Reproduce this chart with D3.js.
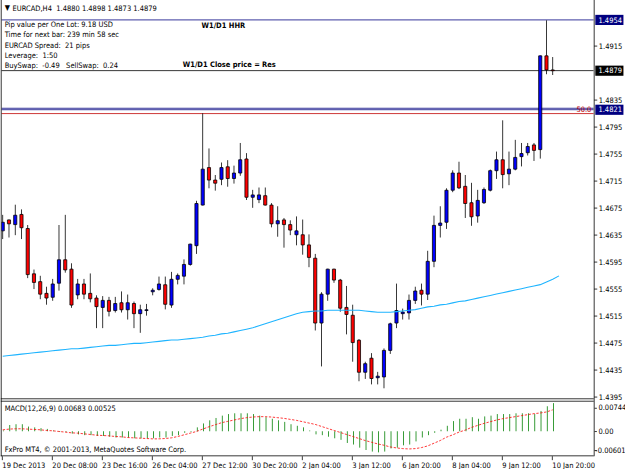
<!DOCTYPE html>
<html><head><meta charset="utf-8">
<script src="https://cdn.jsdelivr.net/npm/d3@7"></script>
<style>
html,body{margin:0;padding:0;background:#fff;overflow:hidden;}
svg{display:block;}
text{font-family:"DejaVu Sans Condensed","Liberation Sans",sans-serif;font-size:9.6px;white-space:pre;}
</style></head><body>
<svg id="c" width="625" height="469"></svg>
<script>
// ---------------- data ----------------
const headerText = "EURCAD,H4  1.4880 1.4898 1.4873 1.4879";
const infoLines = [
  "Pip value per One Lot: 9.18 USD",
  "Time for next bar: 239 min 58 sec",
  "EURCAD Spread:  21 pips",
  "Leverage:  1:50",
  "BuySwap:  -0.49   SellSwap:  0.24"
];
const noteTop = "W1/D1 HHR";
const noteBottom = "W1/D1 Close price = Res";
const opens = [1.4641,1.4657,1.4650,1.4666,1.4645,1.4578,1.4566,1.4549,1.4543,1.4564,
  1.4599,1.4584,1.4546,1.4562,1.4549,1.4542,1.4528,1.4538,1.4523,1.4535,
  1.4524,1.4534,1.4519,1.4523,1.4551,1.4555,1.4561,1.4531,1.4570,1.4574,
  1.4592,1.4619,1.4680,1.4735,1.4717,1.4718,1.4736,1.4719,1.4727,1.4748,
  1.4691,1.4688,1.4693,1.4680,1.4652,1.4658,1.4650,1.4635,1.4636,1.4620,
  1.4601,1.4505,1.4548,1.4584,1.4568,1.4528,1.4516,1.4479,1.4432,1.4453,
  1.4424,1.4425,1.4464,1.4505,1.4519,1.4520,1.4538,1.4553,1.4547,1.4596,
  1.4649,1.4654,1.4701,1.4727,1.4707,1.4683,1.4663,1.4683,1.4701,1.4730,
  1.4747,1.4726,1.4733,1.4751,1.4757,1.4768,1.4762,1.4900,1.4880];
const highs = [1.4664,1.4658,1.4679,1.4673,1.4649,1.4583,1.4574,1.4558,1.4570,1.4649,
  1.4664,1.4593,1.4570,1.4570,1.4578,1.4545,1.4544,1.4543,1.4543,1.4551,
  1.4546,1.4536,1.4531,1.4532,1.4556,1.4573,1.4573,1.4580,1.4578,1.4599,
  1.4622,1.4685,1.4815,1.4763,1.4723,1.4742,1.4746,1.4737,1.4771,1.4756,
  1.4702,1.4705,1.4705,1.4682,1.4677,1.4660,1.4656,1.4662,1.4657,1.4635,
  1.4606,1.4550,1.4585,1.4585,1.4570,1.4559,1.4531,1.4480,1.4447,1.4460,
  1.4432,1.4466,1.4505,1.4563,1.4526,1.4546,1.4558,1.4562,1.4611,1.4663,
  1.4677,1.4704,1.4730,1.4743,1.4723,1.4712,1.4702,1.4705,1.4731,1.4758,
  1.4805,1.4758,1.4776,1.4771,1.4771,1.4771,1.4900,1.4953,1.4898];
const lows = [1.4630,1.4632,1.4635,1.4630,1.4572,1.4556,1.4541,1.4533,1.4538,1.4553,
  1.4580,1.4528,1.4541,1.4541,1.4536,1.4498,1.4498,1.4515,1.4521,1.4521,
  1.4511,1.4498,1.4491,1.4516,1.4546,1.4553,1.4526,1.4528,1.4562,1.4562,
  1.4590,1.4608,1.4679,1.4705,1.4701,1.4710,1.4707,1.4712,1.4723,1.4687,
  1.4676,1.4683,1.4679,1.4647,1.4633,1.4617,1.4636,1.4620,1.4606,1.4588,
  1.4494,1.4441,1.4538,1.4565,1.4522,1.4489,1.4448,1.4419,1.4422,1.4414,
  1.4414,1.4409,1.4459,1.4498,1.4510,1.4510,1.4534,1.4531,1.4539,1.4588,
  1.4632,1.4645,1.4699,1.4704,1.4661,1.4649,1.4654,1.4682,1.4700,1.4719,
  1.4705,1.4710,1.4732,1.4737,1.4753,1.4745,1.4749,1.4874,1.4873];
const closes = [1.4654,1.4652,1.4664,1.4646,1.4577,1.4565,1.4547,1.4542,1.4563,1.4599,
  1.4583,1.4531,1.4563,1.4547,1.4541,1.4529,1.4538,1.4522,1.4534,1.4524,
  1.4535,1.4519,1.4524,1.4524,1.4553,1.4562,1.4533,1.4570,1.4575,1.4592,
  1.4621,1.4682,1.4733,1.4717,1.4712,1.4735,1.4719,1.4727,1.4747,1.4691,
  1.4694,1.4694,1.4680,1.4652,1.4656,1.4651,1.4642,1.4641,1.4620,1.4602,
  1.4505,1.4548,1.4584,1.4568,1.4527,1.4517,1.4476,1.4432,1.4445,1.4423,
  1.4426,1.4464,1.4504,1.4523,1.4521,1.4538,1.4552,1.4548,1.4596,1.4649,
  1.4653,1.4702,1.4727,1.4705,1.4682,1.4662,1.4686,1.4703,1.4730,1.4747,
  1.4725,1.4733,1.4750,1.4756,1.4766,1.4761,1.4900,1.4880,1.4879];
const maValues = [1.4455,1.4456,1.4457,1.4458,1.4459,1.4460,1.4461,1.4462,1.4463,
  1.4464,1.4465,1.4466,1.4466,1.4467,1.4468,1.4469,1.4470,
  1.4471,1.4471,1.4472,1.4473,1.4474,1.4474,1.4475,1.4476,
  1.4477,1.4478,1.4479,1.4479,1.4480,1.4481,1.4482,1.4483,
  1.4485,1.4486,1.4488,1.4489,1.4491,1.4493,1.4495,1.4497,
  1.4500,1.4503,1.4506,1.4509,1.4512,1.4515,1.4518,1.4520,
  1.4521,1.4522,1.4522,1.4523,1.4523,1.4523,1.4523,1.4523,
  1.4523,1.4522,1.4521,1.4520,1.4520,1.4520,1.4521,1.4522,
  1.4523,1.4524,1.4526,1.4528,1.4529,1.4531,1.4532,1.4534,
  1.4536,1.4537,1.4539,1.4541,1.4543,1.4545,1.4547,1.4549,
  1.4551,1.4553,1.4555,1.4557,1.4559,1.4561,1.4565,1.4569,1.4574];
const macdHist = [0.00024,0.00163,0.00179,0.00171,0.00122,0.00106,0.00082,0.00065,0.00033,0.00008,
  -0.00016,-0.00049,-0.00065,-0.00082,-0.00090,-0.00106,-0.00114,-0.00130,-0.00139,-0.00147,
  -0.00155,-0.00163,-0.00171,-0.00171,-0.00163,-0.00147,-0.00139,-0.00114,-0.00082,-0.00041,
  0.00005,0.00098,0.00196,0.00269,0.00326,0.00383,0.00416,0.00440,0.00448,0.00448,
  0.00424,0.00391,0.00350,0.00310,0.00269,0.00228,0.00179,0.00147,0.00098,0.00024,
  -0.00065,-0.00098,-0.00122,-0.00163,-0.00204,-0.00285,-0.00326,-0.00391,-0.00448,-0.00489,
  -0.00505,-0.00489,-0.00408,-0.00391,-0.00342,-0.00310,-0.00245,-0.00147,-0.00098,-0.00024,
  0.00041,0.00147,0.00245,0.00310,0.00310,0.00342,0.00310,0.00367,0.00391,0.00424,
  0.00424,0.00424,0.00448,0.00448,0.00448,0.00424,0.00489,0.00611,0.00683];
const macdSignal = [0.00040,0.00057,0.00065,0.00065,0.00057,0.00049,0.00041,0.00024,0.00016,0.00000,
  -0.00016,-0.00033,-0.00041,-0.00057,-0.00073,-0.00090,-0.00098,-0.00106,-0.00122,-0.00130,
  -0.00147,-0.00155,-0.00163,-0.00171,-0.00179,-0.00179,-0.00171,-0.00155,-0.00122,-0.00082,
  -0.00041,0.00000,0.00057,0.00114,0.00163,0.00212,0.00245,0.00277,0.00310,0.00334,
  0.00350,0.00359,0.00359,0.00350,0.00334,0.00318,0.00293,0.00269,0.00236,0.00204,
  0.00171,0.00122,0.00073,0.00024,-0.00024,-0.00073,-0.00122,-0.00171,-0.00220,-0.00261,
  -0.00302,-0.00334,-0.00375,-0.00399,-0.00416,-0.00424,-0.00416,-0.00391,-0.00350,-0.00285,
  -0.00220,-0.00139,-0.00082,-0.00016,0.00033,0.00098,0.00147,0.00196,0.00236,0.00277,
  0.00310,0.00334,0.00359,0.00383,0.00408,0.00432,0.00448,0.00473,0.00525];
const macdTitle = "MACD(12,26,9) 0.00683 0.00525";
const copyright = "FxPro MT4, \u00A9 2001-2013, MetaQuotes Software Corp.";
const timeLabels = ["19 Dec 2013","20 Dec 08:00","23 Dec 16:00","26 Dec 04:00","27 Dec 12:00","30 Dec 20:00",
  "2 Jan 04:00","3 Jan 12:00","6 Jan 20:00","8 Jan 04:00","9 Jan 12:00","10 Jan 20:00"];
const barsPerLabel = 8;
const priceTicks = [1.4395,1.4435,1.4475,1.4515,1.4555,1.4595,1.4635,1.4675,1.4715,1.4755,1.4795,1.4835,1.4915];
const macdTickLabels = ["0.00744","0.00","-0.00601"];
const macdRange = [-0.00601, 0.00744];
const navyLevels = [1.4954, 1.48225, 1.48205];
const bidLevel = 1.4879;
const fibLevel = 1.4815;
const fibLabel = "50.0";
const navyTags = [1.4954, 1.4821];
const bidTag = 1.4879;

// ---------------- layout (source px, scaled to 625 wide) ----------------
const S = 625/800;
const axisX = 760, mainBottom = 510, macdTop = 513, macdBottom = 583;
const svg = d3.select("#c");
svg.append("rect").attr("width",625).attr("height",469).attr("fill","#fff");
const g = svg.append("g").attr("transform",`scale(${S})`);

const n = opens.length;
const x = d3.scaleLinear().domain([0, n-1]).range([3.5, 3.5 + 8*(n-1)]);
const y = d3.scaleLinear().domain([1.43924, 1.49827]).range([mainBottom, 0]);
const ym = d3.scaleLinear().domain(macdRange).range([macdBottom+1, macdTop]);

const defs = svg.append("defs");
defs.append("clipPath").attr("id","mainClip").append("rect")
  .attr("x",2).attr("y",0).attr("width",axisX-2).attr("height",mainBottom);
defs.append("clipPath").attr("id","macdClip").append("rect")
  .attr("x",2).attr("y",macdTop+1).attr("width",axisX-2).attr("height",macdBottom-macdTop-1);

const main = g.append("g").attr("clip-path","url(#mainClip)");

// horizontal level lines
navyLevels.forEach(p=>{
  main.append("rect").attr("x",0).attr("width",axisX).attr("y",Math.round(y(p))).attr("height",1).attr("fill","#000080");
});
main.append("rect").attr("x",0).attr("width",axisX).attr("y",Math.round(y(fibLevel))).attr("height",1).attr("fill","#C00000");
main.append("rect").attr("x",0).attr("width",axisX).attr("y",Math.round(y(bidLevel))).attr("height",1).attr("fill","#000000");

// candles
const idx = d3.range(n);
main.append("g").selectAll("rect").data(idx).join("rect")
  .attr("x", i=>x(i)-0.5).attr("width",1)
  .attr("y", i=>Math.round(y(highs[i])))
  .attr("height", i=>Math.round(y(lows[i]))-Math.round(y(highs[i]))+1)
  .attr("fill","#000");
main.append("g").selectAll("path").data(idx).join("path")
  .attr("d", i=>{
    const t = Math.round(y(Math.max(opens[i],closes[i])));
    const b = Math.round(y(Math.min(opens[i],closes[i])));
    const x0 = x(i)-2;
    return `M${x0},${t+0.5}h4v${b-t}h-4Z`;
  })
  .attr("fill", i=> closes[i]>=opens[i] ? "#0000FF" : "#FF0000")
  .attr("stroke","#000").attr("stroke-width",1);

// moving average
main.append("path").datum(maValues)
  .attr("d", d3.line().x((d,i)=>x(i)).y(d=>y(d)))
  .attr("fill","none").attr("stroke","#1EB4FF").attr("stroke-width",1.4);

// fib label
main.append("text").attr("x",757).attr("y",Math.round(y(fibLevel))-2).attr("text-anchor","end")
  .attr("fill","#C00000").text(fibLabel);

// header + info
g.append("text").attr("x",6).attr("y",13).attr("font-size","8px").text("\u25BC");
g.append("text").attr("x",16).attr("y",14).text(headerText);
infoLines.forEach((t,k)=>{
  g.append("text").attr("x",6).attr("y",34.5+k*13.2).text(t);
});
g.append("text").attr("x",258).attr("y",36).attr("font-weight","bold").attr("font-size","9.5px").text(noteTop);
g.append("text").attr("x",234).attr("y",86).attr("font-weight","bold").attr("font-size","9.5px").text(noteBottom);

// frames
g.append("rect").attr("x",1).attr("y",0).attr("width",1).attr("height",macdBottom+1).attr("fill","#000");
g.append("rect").attr("x",axisX).attr("y",0).attr("width",1).attr("height",macdBottom+1).attr("fill","#000");
g.append("rect").attr("x",1).attr("y",mainBottom).attr("width",axisX-1).attr("height",1).attr("fill","#000");
g.append("rect").attr("x",1).attr("y",macdTop).attr("width",axisX-1).attr("height",1).attr("fill","#000");
g.append("rect").attr("x",1).attr("y",macdBottom).attr("width",axisX-1).attr("height",1).attr("fill","#000");

// price axis
const pa = g.append("g").attr("transform",`translate(${axisX+0.5},0)`)
  .call(d3.axisRight(y).tickValues(priceTicks).tickFormat(d3.format(".4f")).tickSize(4).tickPadding(2));
pa.select(".domain").remove();
pa.selectAll("text").attr("font-family",null).attr("font-size",null).attr("fill","#000").attr("dy","0.35em");
pa.selectAll("line").attr("stroke","#000");

// price tags
function tag(p, fill){
  const yc = Math.round(y(p))+0.5;
  g.append("rect").attr("x",axisX+2).attr("y",yc-6.5).attr("width",36).attr("height",13).attr("fill",fill);
  g.append("text").attr("x",axisX+6).attr("y",yc).attr("dy","0.35em").attr("fill","#fff").text(d3.format(".4f")(p));
}
navyTags.forEach(p=>tag(p,"#000080"));
tag(bidTag,"#000000");

// MACD
const mg = g.append("g").attr("clip-path","url(#macdClip)");
const z = Math.round(ym(0));
mg.append("g").selectAll("rect").data(idx).join("rect")
  .attr("x", i=>x(i)+0.5).attr("width",1)
  .attr("y", i=> macdHist[i]>=0 ? Math.round(ym(macdHist[i])) : z)
  .attr("height", i=> Math.max(1, Math.abs(Math.round(ym(macdHist[i]))-z)))
  .attr("fill","#008000");
mg.append("path").datum(macdSignal)
  .attr("d", d3.line().x((d,i)=>x(i)).y(d=>ym(d)))
  .attr("fill","none").attr("stroke","#FF0000").attr("stroke-width",1).attr("stroke-dasharray","3,2");
g.append("text").attr("x",6).attr("y",macdTop+13).text(macdTitle);
g.append("text").attr("x",6).attr("y",macdBottom-4).text(copyright);

// MACD axis labels
const macdLabelY = [macdTop+9, z, macdBottom-7];
macdTickLabels.forEach((t,k)=>{
  g.append("rect").attr("x",axisX+1).attr("width",3).attr("y",Math.round(macdLabelY[k])).attr("height",1).attr("fill","#000");
  g.append("text").attr("x", t.startsWith("-") ? axisX+2 : axisX+6).attr("y",macdLabelY[k]).attr("dy","0.35em")
    .attr("font-size","9px").text(t);
});

// time axis
const tickIdx = timeLabels.map((t,k)=>k*barsPerLabel);
const ta = g.append("g").attr("transform",`translate(0,${macdBottom+1})`)
  .call(d3.axisBottom(x).tickValues(tickIdx).tickFormat((d,k)=>timeLabels[k]).tickSize(5).tickPadding(3));
ta.select(".domain").remove();
ta.selectAll("line").attr("stroke","#000").attr("transform","translate(-1,0)");
ta.selectAll("text").attr("font-family",null).attr("font-size",null).attr("fill","#000")
  .attr("text-anchor","start").attr("x",-1).attr("dy","0.71em");
</script>
</body></html>
